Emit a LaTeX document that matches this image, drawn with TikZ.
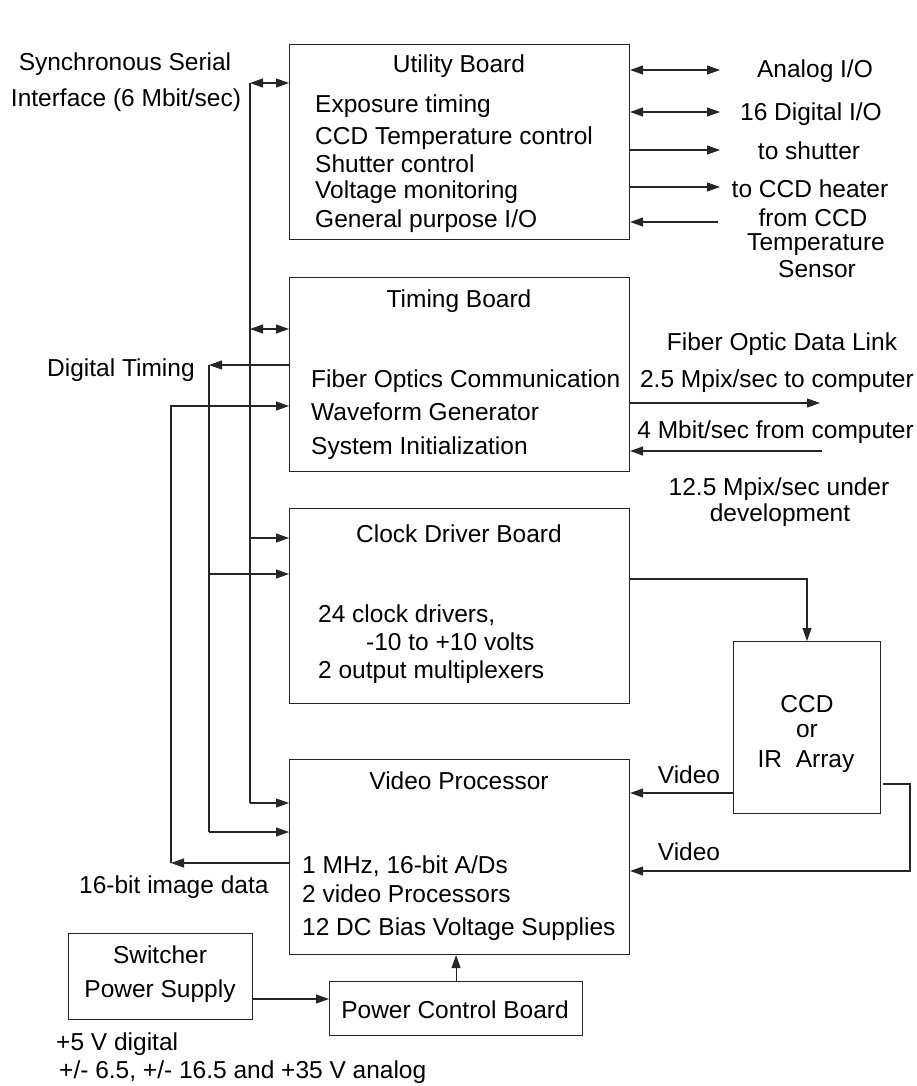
\documentclass[tikz,border=0pt]{standalone}
\usepackage{fontspec}
\setmainfont{Liberation Sans}
\usetikzlibrary{arrows.meta}
\tikzset{
  box/.style={draw=black!85, line width=1.1pt, inner sep=0pt},
  ln/.style={draw=black!85, line width=1.1pt},
  arr/.style={ln, -{Triangle[length=13pt,width=9pt]}},
  dbl/.style={ln, {Triangle[length=13pt,width=9pt]}-{Triangle[length=13pt,width=9pt]}},
  txt/.style={inner sep=0pt, font=\fontsize{24.5}{28}\selectfont},
}
\begin{document}
\begin{tikzpicture}[x=1pt,y=-1pt]
\useasboundingbox (0,0) rectangle (916,1086);
% boxes
\node[box, anchor=north west, minimum width=340, minimum height=195] (ub) at (289,44) {};
\node[box, anchor=north west, minimum width=340, minimum height=194] (tb) at (289,277) {};
\node[box, anchor=north west, minimum width=340, minimum height=195] (cb) at (289,508) {};
\node[box, anchor=north west, minimum width=340, minimum height=195] (vp) at (289,759) {};
\node[box, anchor=north west, minimum width=147, minimum height=172] (ccd) at (733,641) {};
\node[box, anchor=north west, minimum width=184, minimum height=86] (sw) at (68,933) {};
\node[box, anchor=north west, minimum width=253, minimum height=54] (pc) at (329,981) {};
% box texts
\node[txt, anchor=base] (ubT) at (459,73) {Utility Board};
\node[txt, anchor=base west] (ub1) at (315,113) {Exposure timing};
\node[txt, anchor=base west] (ub2) at (315,145) {CCD Temperature control};
\node[txt, anchor=base west] (ub3) at (315,172) {Shutter control};
\node[txt, anchor=base west] (ub4) at (315,199) {Voltage monitoring};
\node[txt, anchor=base west] (ub5) at (315,227) {General purpose I/O};
\node[txt, anchor=base] (tbT) at (459,307) {Timing Board};
\node[txt, anchor=base west] (tb1) at (311,387) {Fiber Optics Communication};
\node[txt, anchor=base west] (tb2) at (311,420) {Waveform Generator};
\node[txt, anchor=base west] (tb3) at (311,454) {System Initialization};
\node[txt, anchor=base] (cbT) at (459,542) {Clock Driver Board};
\node[txt, anchor=base west] (cb1) at (318,622) {24 clock drivers,};
\node[txt, anchor=base west] (cb2) at (366,650) {-10 to +10 volts};
\node[txt, anchor=base west] (cb3) at (318,678) {2 output multiplexers};
\node[txt, anchor=base] (vpT) at (459,789) {Video Processor};
\node[txt, anchor=base west] (vp1) at (302,873) {1 MHz, 16-bit A/Ds};
\node[txt, anchor=base west] (vp2) at (302,902) {2 video Processors};
\node[txt, anchor=base west] (vp3) at (302,935) {12 DC Bias Voltage Supplies};
\node[txt, anchor=base] (ccd1) at (807,712) {CCD};
\node[txt, anchor=base] (ccd2) at (807,737) {or};
\node[txt, anchor=base] (ccd3) at (806,767) {IR\ \ Array};
\node[txt, anchor=base] (sw1) at (160,963) {Switcher};
\node[txt, anchor=base] (sw2) at (160,997) {Power Supply};
\node[txt, anchor=base] (pcT) at (455,1018) {Power Control Board};
% outside labels
\node[txt, anchor=base] (ss1) at (125,71) {Synchronous Serial};
\node[txt, anchor=base] (ss2) at (126,107) {Interface (6 Mbit/sec)};
\node[txt, anchor=base west] (dtl) at (47,376) {Digital Timing};
\node[txt, anchor=base west] (imgl) at (79,893) {16-bit image data};
\node[txt, anchor=base] (ra1) at (815,78) {Analog I/O};
\node[txt, anchor=base] (ra2) at (811,121) {16 Digital I/O};
\node[txt, anchor=base] (ra3) at (809,160) {to shutter};
\node[txt, anchor=base] (ra4) at (810,197) {to CCD heater};
\node[txt, anchor=base] (ra5) at (813,226) {from CCD};
\node[txt, anchor=base] (ra6) at (816,250) {Temperature};
\node[txt, anchor=base] (ra7) at (817,277) {Sensor};
\node[txt, anchor=base] (fo1) at (782,350) {Fiber Optic Data Link};
\node[txt, anchor=base east] (fo2) at (914,387) {2.5 Mpix/sec to computer};
\node[txt, anchor=base east] (fo3) at (914,438) {4 Mbit/sec from computer};
\node[txt, anchor=base] (fo4) at (779,495) {12.5 Mpix/sec under};
\node[txt, anchor=base] (fo5) at (780,521) {development};
\node[txt, anchor=base] (vl1) at (689,783) {Video};
\node[txt, anchor=base] (vl2) at (689,860) {Video};
\node[txt, anchor=base west] (pw1) at (56,1050) {+5 V digital};
\node[txt, anchor=base west] (pw2) at (59,1078) {+/- 6.5, +/- 16.5 and +35 V analog};
% serial bus
\coordinate (bT) at (250,83);
\coordinate (b2) at (250,329);
\coordinate (b3) at (250,538);
\coordinate (bB) at (250,803);
\draw[ln] (bT) -- (bB);
\draw[dbl] (bT) -- (ub.west |- bT);
\draw[dbl] (b2) -- (tb.west |- b2);
\draw[arr] (b3) -- (cb.west |- b3);
\draw[arr] (bB) -- (vp.west |- bB);
% digital timing
\coordinate (dT) at (209,365);
\coordinate (d2) at (209,574);
\coordinate (dB) at (209,832);
\draw[arr] (tb.west |- dT) -- (dT);
\draw[ln] (dT) -- (dB);
\draw[arr] (d2) -- (cb.west |- d2);
\draw[arr] (dB) -- (vp.west |- dB);
% image data
\coordinate (iT) at (171,406);
\coordinate (iB) at (171,863);
\draw[arr] (vp.west |- iB) -- (iB);
\draw[arr] (iB) -- (iT) -- (tb.west |- iT);
% utility right side
\coordinate (r1) at (720,70);
\coordinate (r2) at (720,112);
\coordinate (r3) at (720,150);
\coordinate (r4) at (720,187);
\coordinate (r5) at (718,222);
\draw[dbl] (ub.east |- r1) -- (r1);
\draw[dbl] (ub.east |- r2) -- (r2);
\draw[arr] (ub.east |- r3) -- (r3);
\draw[arr] (ub.east |- r4) -- (r4);
\draw[arr] (r5) -- (ub.east |- r5);
% fiber link
\coordinate (f1) at (820,403);
\coordinate (f2) at (822,451);
\draw[arr] (tb.east |- f1) -- (f1);
\draw[arr] (f2) -- (tb.east |- f2);
% clock to ccd
\coordinate (c1) at (807,579);
\draw[arr] (cb.east |- c1) -- (c1) -- (c1 |- ccd.north);
% video
\coordinate (vA) at (733,793);
\draw[arr] (vA) -- (vp.east |- vA);
\coordinate (vB1) at (883,784);
\coordinate (vB2) at (910,871);
\draw[arr] (vB1) -- (vB1 -| vB2) -- (vB2) -- (vp.east |- vB2);
% power
\coordinate (pw) at (252,999);
\draw[arr] (pw) -- (pc.west |- pw);
\draw[arr] (pc.north) -- (pc.north |- vp.south);
\end{tikzpicture}
\end{document}
